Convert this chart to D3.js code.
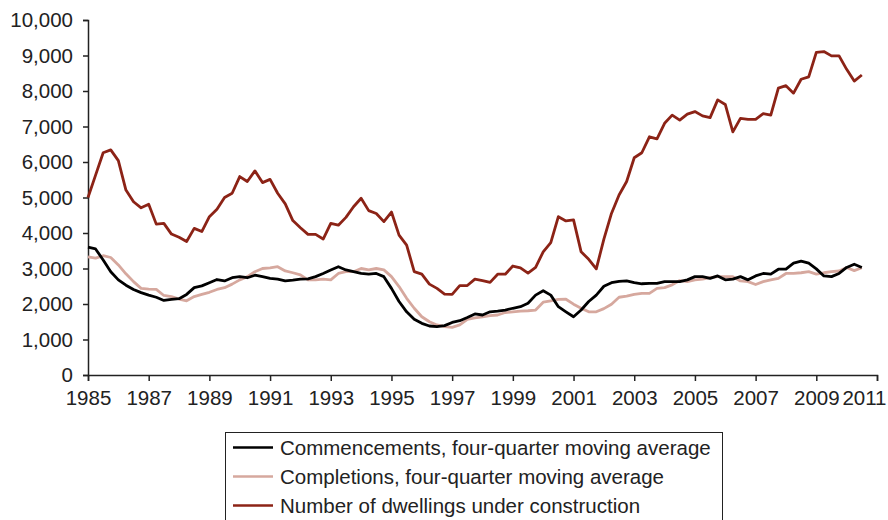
<!DOCTYPE html>
<html>
<head>
<meta charset="utf-8">
<script src="https://cdn.jsdelivr.net/npm/d3@7"></script>
<style>
  body { margin: 0; background: #fff; }
  svg { display: block; font-family: "Liberation Sans", Arial, Helvetica, sans-serif; }
</style>
</head>
<body>
<div id="chart"></div>
<script>
// quarterly values, 1985 Q1 onwards
var startYear = 1985;
var yearTicks = [1985, 1987, 1989, 1991, 1993, 1995, 1997, 1999, 2001, 2003, 2005, 2007, 2009, 2011];
var valueTicks = [0, 1000, 2000, 3000, 4000, 5000, 6000, 7000, 8000, 9000, 10000];

var commencements = [
	3600, 3550, 3240, 2910, 2680, 2530, 2410, 2320, 2250, 2190, 2100, 2130, 2150, 2270, 2460, 2510, 2600, 2690, 2650, 2740, 2770,
	2740, 2810, 2770, 2720, 2700, 2650, 2670, 2700, 2710, 2770, 2860, 2960, 3050, 2960, 2910, 2860, 2840, 2860, 2770, 2440, 2070,
	1780, 1570, 1455, 1380, 1360, 1390, 1480, 1530, 1620, 1720, 1690, 1780, 1800, 1830, 1880, 1925, 2020, 2250, 2375, 2250,
	1925, 1780, 1640, 1830, 2070, 2250, 2500, 2600, 2640, 2650, 2600, 2570, 2580, 2580, 2630, 2630, 2630, 2680, 2770, 2770, 2720,
	2790, 2680, 2700, 2770, 2680, 2790, 2860, 2840, 2980, 2980, 3150, 3210, 3150, 2990, 2790, 2770, 2860, 3030, 3120, 3030
];

var completions = [
	3330, 3290, 3360, 3310, 3100, 2850, 2630, 2440, 2420, 2410, 2240, 2210, 2140, 2090, 2210, 2270, 2330, 2410, 2460, 2560, 2680,
	2770, 2910, 3000, 3020, 3050, 2930, 2880, 2820, 2680, 2680, 2700, 2680, 2860, 2910, 2910, 3000, 2960, 3000, 2960, 2770, 2490,
	2160, 1880, 1640, 1500, 1410, 1360, 1340, 1410, 1570, 1610, 1640, 1670, 1690, 1760, 1780, 1800, 1810, 1830, 2050, 2090,
	2130, 2135, 1995, 1880, 1780, 1780, 1870, 1995, 2190, 2220, 2270, 2300, 2300, 2440, 2460, 2540, 2660, 2630, 2680, 2700, 2740,
	2770, 2770, 2770, 2650, 2630, 2550, 2630, 2680, 2720, 2860, 2860, 2880, 2910, 2840, 2880, 2910, 2930, 3030, 2940, 3020
];

var underConstruction = [
	5000, 5630, 6260, 6340, 6040, 5210, 4880, 4710, 4810, 4250, 4270, 3970, 3880, 3760, 4130, 4040, 4460, 4670, 5000, 5120, 5590,
	5450, 5750, 5420, 5510, 5120, 4820, 4350, 4150, 3960, 3960, 3830, 4270, 4220, 4440, 4740, 4980, 4630, 4550, 4320, 4590, 3940,
	3660, 2910, 2840, 2560, 2440, 2280, 2270, 2520, 2520, 2700, 2660, 2610, 2840, 2840, 3070, 3020, 2870, 3030, 3470, 3730,
	4460, 4340, 4370, 3470, 3260, 2990, 3830, 4550, 5070, 5450, 6120, 6260, 6710, 6650, 7090, 7320, 7180, 7350, 7420, 7300, 7250,
	7750, 7620, 6850, 7230, 7200, 7200, 7360, 7320, 8080, 8150, 7940, 8330, 8400, 9090, 9110, 8990, 8990, 8610, 8280, 8450
];

var seriesNames = [
	"Commencements, four-quarter moving average",
	"Completions, four-quarter moving average",
	"Number of dwellings under construction"
];
var seriesColors = ["#000000", "#d6a89e", "#8c2316"];
var allSeries = [commencements, completions, underConstruction];

var width = 888, height = 520;
var fontSize = "20.5px";
var svg = d3.select("#chart").append("svg")
	.attr("width", width)
	.attr("height", height);

var x = d3.scaleLinear().domain([1985, 2011]).range([88, 877]);
var y = d3.scaleLinear().domain([0, 10000]).range([375, 20]);

// y axis
svg.append("g")
	.attr("transform", "translate(88,0)")
	.call(d3.axisLeft(y).tickValues(valueTicks).tickFormat(d3.format(",")).tickSize(5).tickPadding(10));

// x axis
var xAxis = svg.append("g")
	.attr("transform", "translate(0,375)")
	.call(d3.axisBottom(x).tickValues(yearTicks).tickFormat(d3.format("d")).tickSize(6).tickPadding(9));

svg.selectAll(".domain").attr("stroke", "#222").attr("stroke-width", 1.5);
svg.selectAll(".tick line").attr("stroke", "#222").attr("stroke-width", 1.5);
svg.selectAll(".tick text")
	.style("font-size", fontSize)
	.style("fill", "#222")
	.style("font-family", "'Liberation Sans', Arial, sans-serif");

// last year label is pulled in so it stays on the page
xAxis.selectAll(".tick text")
	.filter(function(d) { return d === 2011; })
	.attr("text-anchor", "end")
	.attr("x", 9);

var line = d3.line()
	.x(function(d, i) { return x(startYear + i / 4); })
	.y(function(d) { return y(d); });

// draw completions first so the others sit on top
[1, 0, 2].forEach(function(k) {
	svg.append("path")
		.datum(allSeries[k])
		.attr("fill", "none")
		.attr("stroke", seriesColors[k])
		.attr("stroke-width", 2.8)
		.attr("stroke-linejoin", "round")
		.attr("d", line);
});

// legend
var legend = svg.append("g");
legend.append("rect")
	.attr("x", 225.5).attr("y", 432.5)
	.attr("width", 497).attr("height", 100)
	.attr("fill", "#fff")
	.attr("stroke", "#222")
	.attr("stroke-width", 1);

seriesNames.forEach(function(name, i) {
	let cy = 447.5 + i * 29;
	legend.append("line")
		.attr("x1", 233).attr("x2", 273)
		.attr("y1", cy).attr("y2", cy)
		.attr("stroke", seriesColors[i])
		.attr("stroke-width", 2.5);
	legend.append("text")
		.attr("x", 280).attr("y", cy)
		.attr("dy", "0.35em")
		.style("font-size", fontSize)
		.style("fill", "#222")
		.text(name);
});
</script>
</body>
</html>
